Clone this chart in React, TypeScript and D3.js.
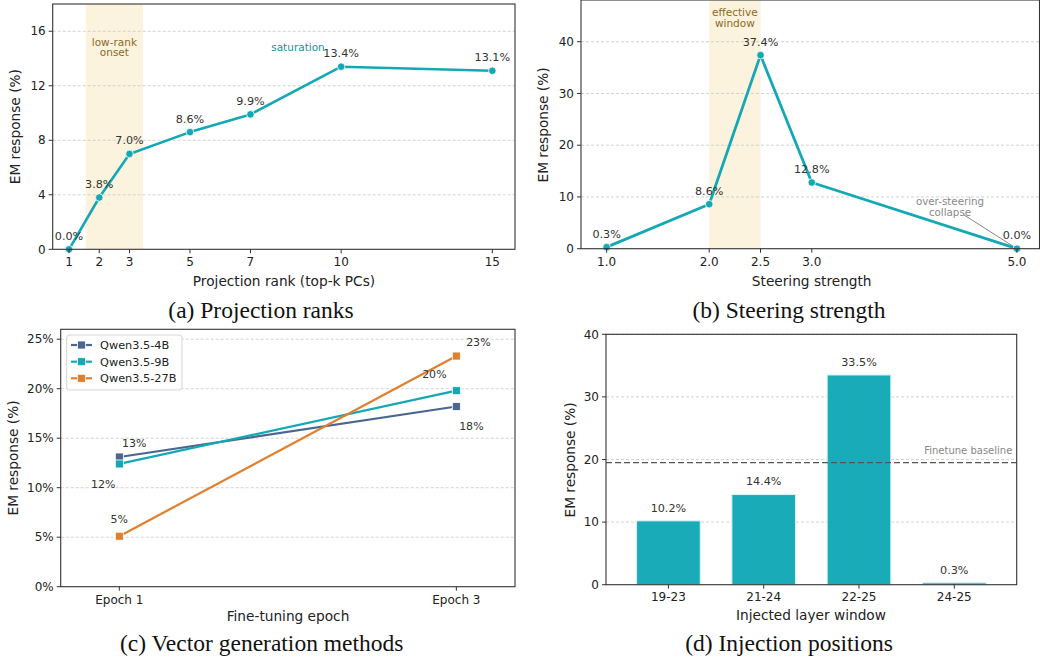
import React from "react";
import * as d3 from "d3";

// ---------- data ----------
const rankX = [1, 2, 3, 5, 7, 10, 15];
const rankY = [0.0, 3.8, 7.0, 8.6, 9.9, 13.4, 13.1];
const rankYTicks = [0, 4, 8, 12, 16];
const rankBand = [1.55, 3.45];

const strengthX = [1.0, 2.0, 2.5, 3.0, 5.0];
const strengthY = [0.3, 8.6, 37.4, 12.8, 0.0];
const strengthYTicks = [0, 10, 20, 30, 40];
const strengthBand = [2.0, 2.5];

const epochs = ["Epoch 1", "Epoch 3"];
const models = ["Qwen3.5-4B", "Qwen3.5-9B", "Qwen3.5-27B"];
const em4B = [13.1, 18.2];
const em9B = [12.4, 19.8];
const em27B = [5.1, 23.3];
const epochYTicks = [0, 5, 10, 15, 20, 25];

const windows = ["19-23", "21-24", "22-25", "24-25"];
const windowY = [10.2, 14.4, 33.5, 0.3];
const windowYTicks = [0, 10, 20, 30, 40];
const finetuneBaseline = 19.5;

// ---------- style ----------
const TEAL = "#14a8b5";
const BAR = "#19acb8";
const SLATE = "#4a6791";
const ORANGE = "#e07f2e";
const BAND = "#fcf3de";
const BROWN = "#8c6a1e";
const SANS = "DejaVu Sans, Verdana, sans-serif";
const SERIF = "Liberation Serif, Times New Roman, serif";
const SPINE = "#333";
const GRID = "#c8c8c8";

type Box = { l: number; r: number; t: number; b: number };

function Frame({ box }: { box: Box }) {
  return (
    <rect x={box.l} y={box.t} width={box.r - box.l} height={box.b - box.t} fill="none" stroke={SPINE} strokeWidth={1.1} />
  );
}

function YAxis({ box, y, ticks, fmt }: { box: Box; y: d3.ScaleLinear<number, number>; ticks: number[]; fmt: (v: number) => string }) {
  return (
    <g>
      {ticks.map((t) => (
        <g key={t}>
          {t > 0 && (
            <line x1={box.l} x2={box.r} y1={y(t)} y2={y(t)} stroke={GRID} strokeWidth={0.8} strokeDasharray="3,2" />
          )}
          <line x1={box.l - 4} x2={box.l} y1={y(t)} y2={y(t)} stroke={SPINE} strokeWidth={1} />
          <text x={box.l - 7} y={y(t)} dy="0.35em" textAnchor="end" fontSize={12} fontFamily={SANS} fill="#222">
            {fmt(t)}
          </text>
        </g>
      ))}
    </g>
  );
}

function XTicks({ box, pos, labels, labelY }: { box: Box; pos: number[]; labels: string[]; labelY: number }) {
  return (
    <g>
      {pos.map((p, i) => (
        <g key={i}>
          <line x1={p} x2={p} y1={box.b} y2={box.b + 4} stroke={SPINE} strokeWidth={1} />
          <text x={p} y={labelY} dy="0.35em" textAnchor="middle" fontSize={12} fontFamily={SANS} fill="#222">
            {labels[i]}
          </text>
        </g>
      ))}
    </g>
  );
}

function AxisLabels({ xText, xPos, yText, yPos }: { xText: string; xPos: [number, number]; yText: string; yPos: [number, number] }) {
  return (
    <g fontFamily={SANS} fontSize={13.7} fill="#222">
      <text x={xPos[0]} y={xPos[1]} dy="0.35em" textAnchor="middle">
        {xText}
      </text>
      <text transform={`translate(${yPos[0]},${yPos[1]}) rotate(-90)`} dy="0.35em" textAnchor="middle">
        {yText}
      </text>
    </g>
  );
}

function Caption({ text, x, y }: { text: string; x: number; y: number }) {
  return (
    <text x={x} y={y} textAnchor="middle" fontFamily={SERIF} fontSize={23.5} fill="#111">
      {text}
    </text>
  );
}

function PanelA() {
  const box: Box = { l: 52.7, r: 515, t: 4, b: 249.3 };
  const x = d3.scaleLinear().domain([0.46, 15.75]).range([box.l, box.r]);
  const y = d3.scaleLinear().domain([0, 18]).range([box.b, box.t]);
  const pts = rankX.map((v, i) => [x(v), y(rankY[i])] as [number, number]);
  const line = d3.line()(pts) || "";
  return (
    <g>
      <rect x={x(rankBand[0])} y={box.t} width={x(rankBand[1]) - x(rankBand[0])} height={box.b - box.t} fill={BAND} />
      <YAxis box={box} y={y} ticks={rankYTicks} fmt={(v) => String(v)} />
      <text x={(x(rankBand[0]) + x(rankBand[1])) / 2} y={42.3} dy="0.35em" textAnchor="middle" fontSize={10.5} fontFamily={SANS} fill={BROWN}>
        low-rank
      </text>
      <text x={(x(rankBand[0]) + x(rankBand[1])) / 2} y={52.3} dy="0.35em" textAnchor="middle" fontSize={10.5} fontFamily={SANS} fill={BROWN}>
        onset
      </text>
      <path d={line} fill="none" stroke={TEAL} strokeWidth={2.6} strokeLinejoin="round" />
      {pts.map((p, i) => (
        <circle key={i} cx={p[0]} cy={p[1]} r={3.8} fill={TEAL} stroke="#fff" strokeWidth={0.8} />
      ))}
      {pts.map((p, i) => (
        <text key={"l" + i} x={p[0]} y={p[1] - 13.5} dy="0.35em" textAnchor="middle" fontSize={11.2} fontFamily={SANS} fill="#333">
          {rankY[i].toFixed(1)}%
        </text>
      ))}
      <text x={298} y={47.5} dy="0.35em" textAnchor="middle" fontSize={10.5} fontFamily={SANS} fill="#17919b">
        saturation
      </text>
      <Frame box={box} />
      <XTicks box={box} pos={rankX.map((v) => x(v))} labels={rankX.map(String)} labelY={262} />
      <AxisLabels xText="Projection rank (top-k PCs)" xPos={[284, 281]} yText="EM response (%)" yPos={[15, 126.7]} />
      <Caption text="(a) Projection ranks" x={261} y={318} />
    </g>
  );
}

function PanelB() {
  const box: Box = { l: 581, r: 1039.5, t: 0, b: 248.7 };
  const x = d3.scaleLinear().domain([0.75, 5.22]).range([box.l, box.r]);
  const y = d3.scaleLinear().domain([0, 48.06]).range([box.b, box.t]);
  const pts = strengthX.map((v, i) => [x(v), y(strengthY[i])] as [number, number]);
  const line = d3.line()(pts) || "";
  const bx = (x(strengthBand[0]) + x(strengthBand[1])) / 2;
  return (
    <g>
      <rect x={x(strengthBand[0])} y={box.t} width={x(strengthBand[1]) - x(strengthBand[0])} height={box.b - box.t} fill={BAND} />
      <YAxis box={box} y={y} ticks={strengthYTicks} fmt={(v) => String(v)} />
      <text x={bx} y={12.3} dy="0.35em" textAnchor="middle" fontSize={10.5} fontFamily={SANS} fill={BROWN}>
        effective
      </text>
      <text x={bx} y={23} dy="0.35em" textAnchor="middle" fontSize={10.5} fontFamily={SANS} fill={BROWN}>
        window
      </text>
      <line x1={963.3} y1={214.5} x2={x(5.0)} y2={y(0)} stroke="#777" strokeWidth={0.9} />
      <path d={line} fill="none" stroke={TEAL} strokeWidth={2.8} strokeLinejoin="round" />
      {pts.map((p, i) => (
        <circle key={i} cx={p[0]} cy={p[1]} r={3.8} fill={TEAL} stroke="#fff" strokeWidth={0.8} />
      ))}
      {pts.map((p, i) => (
        <text key={"l" + i} x={p[0]} y={p[1] - 13.5} dy="0.35em" textAnchor="middle" fontSize={11.2} fontFamily={SANS} fill="#333">
          {strengthY[i].toFixed(1)}%
        </text>
      ))}
      <text x={950} y={201.3} dy="0.35em" textAnchor="middle" fontSize={10.3} fontFamily={SANS} fill="#888">
        over-steering
      </text>
      <text x={950} y={212.3} dy="0.35em" textAnchor="middle" fontSize={10.3} fontFamily={SANS} fill="#888">
        collapse
      </text>
      <Frame box={box} />
      <XTicks box={box} pos={strengthX.map((v) => x(v))} labels={strengthX.map((v) => v.toFixed(1))} labelY={262} />
      <AxisLabels xText="Steering strength" xPos={[811.7, 281]} yText="EM response (%)" yPos={[543.3, 125]} />
      <Caption text="(b) Steering strength" x={789} y={318} />
    </g>
  );
}

function PanelC() {
  const box: Box = { l: 60.7, r: 515, t: 329.3, b: 586.7 };
  const x = d3.scalePoint<string>().domain(epochs).range([box.l, box.r]).padding(0.174);
  const y = d3.scaleLinear().domain([0, 26]).range([box.b, box.t]);
  const series = [
    { name: models[0], vals: em4B, color: SLATE, off: [[15, -14], [15, 20]] },
    { name: models[1], vals: em9B, color: TEAL, off: [[-16, 20], [-22, -17]] },
    { name: models[2], vals: em27B, color: ORANGE, off: [[0, -17], [22, -14]] },
  ];
  const legendY = [345, 361.7, 378.3];
  return (
    <g>
      <YAxis box={box} y={y} ticks={epochYTicks} fmt={(v) => `${v}%`} />
      {series.map((s) => {
        const pts = epochs.map((e, i) => [x(e) as number, y(s.vals[i])] as [number, number]);
        return (
          <g key={s.name}>
            <path d={d3.line()(pts) || ""} fill="none" stroke={s.color} strokeWidth={2.2} />
            {pts.map((p, i) => (
              <rect key={i} x={p[0] - 4} y={p[1] - 4} width={8} height={8} fill={s.color} stroke="#fff" strokeWidth={0.8} />
            ))}
          </g>
        );
      })}
      {series.map((s) =>
        epochs.map((e, i) => (
          <text
            key={s.name + e}
            x={(x(e) as number) + s.off[i][0]}
            y={y(s.vals[i]) + s.off[i][1]}
            dy="0.35em"
            textAnchor="middle"
            fontSize={11}
            fontFamily={SANS}
            fill="#333"
          >
            {Math.round(s.vals[i])}%
          </text>
        ))
      )}
      <rect x={66.7} y={335} width={115.3} height={55} rx={3} fill="#fff" fillOpacity={0.85} stroke="#d0d0d0" strokeWidth={0.9} />
      {series.map((s, i) => (
        <g key={"lg" + s.name}>
          <line x1={71} x2={92} y1={legendY[i]} y2={legendY[i]} stroke={s.color} strokeWidth={2.2} />
          <rect x={81.5 - 4} y={legendY[i] - 4} width={8} height={8} fill={s.color} stroke="#fff" strokeWidth={0.8} />
          <text x={100} y={legendY[i]} dy="0.35em" fontSize={11.3} fontFamily={SANS} fill="#222">
            {s.name}
          </text>
        </g>
      ))}
      <Frame box={box} />
      <XTicks box={box} pos={epochs.map((e) => x(e) as number)} labels={epochs} labelY={599.3} />
      <AxisLabels xText="Fine-tuning epoch" xPos={[288, 616]} yText="EM response (%)" yPos={[13.3, 458]} />
      <Caption text="(c) Vector generation methods" x={261.7} y={651} />
    </g>
  );
}

function PanelD() {
  const box: Box = { l: 606, r: 1016.7, t: 334.3, b: 584.7 };
  const x = d3.scaleBand<string>().domain(windows).range([box.l, box.r]).paddingInner(0.332).paddingOuter(0.321);
  const y = d3.scaleLinear().domain([0, 40]).range([box.b, box.t]);
  return (
    <g>
      <YAxis box={box} y={y} ticks={windowYTicks} fmt={(v) => String(v)} />
      {windows.map((w, i) => (
        <rect
          key={w}
          x={x(w) as number}
          y={y(windowY[i])}
          width={x.bandwidth()}
          height={box.b - y(windowY[i])}
          fill={BAR}
          stroke="#d6f1f3"
          strokeWidth={1}
        />
      ))}
      {windows.map((w, i) => (
        <text
          key={"l" + w}
          x={(x(w) as number) + x.bandwidth() / 2}
          y={y(windowY[i]) - 13}
          dy="0.35em"
          textAnchor="middle"
          fontSize={11.2}
          fontFamily={SANS}
          fill="#333"
        >
          {windowY[i].toFixed(1)}%
        </text>
      ))}
      <line x1={box.l} x2={box.r} y1={y(finetuneBaseline)} y2={y(finetuneBaseline)} stroke="#555" strokeWidth={1.3} strokeDasharray="6,3" />
      <text x={1012.3} y={450} dy="0.35em" textAnchor="end" fontSize={10} fontFamily={SANS} fill="#888">
        Finetune baseline
      </text>
      <Frame box={box} />
      <XTicks box={box} pos={windows.map((w) => (x(w) as number) + x.bandwidth() / 2)} labels={windows} labelY={596.7} />
      <AxisLabels xText="Injected layer window" xPos={[811, 615]} yText="EM response (%)" yPos={[570, 460]} />
      <Caption text="(d) Injection positions" x={789} y={651} />
    </g>
  );
}

export default function App() {
  return (
    <svg
      width={1040}
      height={661}
      viewBox="0 0 1040 661"
      style={{ position: "absolute", left: 0, top: 0, background: "#fff" }}
    >
      <rect x={0} y={0} width={1040} height={661} fill="#fff" />
      <PanelA />
      <PanelB />
      <PanelC />
      <PanelD />
    </svg>
  );
}
